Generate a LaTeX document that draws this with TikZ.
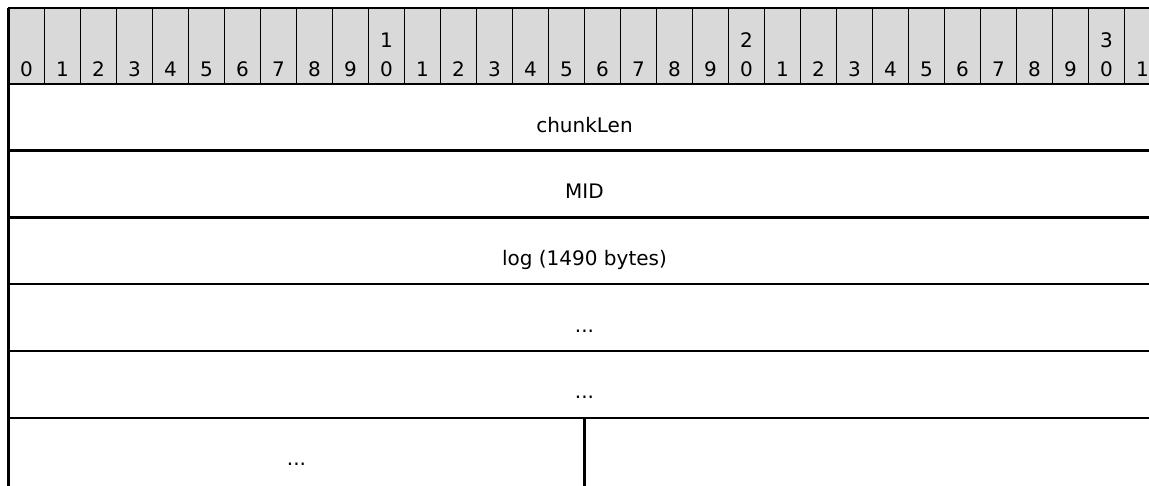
\documentclass[tikz,border=0pt]{standalone}
\usepackage{fontspec}
\setmainfont{DejaVu Sans}
\definecolor{hdrgray}{RGB}{217,217,217}
\begin{document}
\begin{tikzpicture}[x=1pt,y=-1pt,
  hdrcell/.style={fill=hdrgray,draw=black,line width=1.6pt},
  rule/.style={draw=black,line width=2.2pt},
  bitnum/.style={anchor=base,inner sep=0pt,font=\fontsize{20}{24}\selectfont},
  fieldlabel/.style={anchor=base,inner sep=0pt,font=\fontsize{20}{24}\selectfont}]
\useasboundingbox (0,0) rectangle (1149,485);
\begin{scope}
\clip (0,0) rectangle (1149,485);
% header cells
\foreach \i in {0,...,31}{
  \pgfmathsetmacro{\xl}{8.5+36*\i}
  \path[hdrcell] (\xl,8) rectangle ++(36,76);
  \pgfmathtruncatemacro{\tens}{\i/10}
  \pgfmathtruncatemacro{\ones}{mod(\i,10)}
  \node[bitnum] (b\i) at (\xl+18,76) {\ones};
  \ifnum\ones=0 \ifnum\i>0
    \node[bitnum] (t\i) at (\xl+18,47) {\tens};
  \fi\fi
}
% row structure
\coordinate (L0) at (8.5,84);
\coordinate (R0) at (1162,84);
\foreach \y [count=\k] in {150.5,217.5,284,351,418}{
  \coordinate (L\k) at (8.5,\y);
  \coordinate (R\k) at (1162,\y);
}
\coordinate (Ltop) at (8.5,8);
\coordinate (Lend) at (8.5,490);
\coordinate (D0) at (584.5,418);
\coordinate (D1) at (584.5,490);
\draw[rule] (L0) -- (R0);
\foreach \k in {1,...,5}{ \draw[rule] (L\k) -- (R\k); }
\draw[rule] (Ltop) -- (Lend);
\draw[rule] (D0) -- (D1);
% labels
\node[fieldlabel] (chunklen) at (584.5,132) {chunkLen};
\node[fieldlabel] (mid) at (584.5,198.7) {MID};
\node[fieldlabel] (log) at (584.5,265.5) {log (1490 bytes)};
\node[fieldlabel] (dots1) at (584.5,332) {...};
\node[fieldlabel] (dots2) at (584.5,398.7) {...};
\node[fieldlabel] (dots3) at (296.5,465.5) {...};
\end{scope}
\end{tikzpicture}
\end{document}
